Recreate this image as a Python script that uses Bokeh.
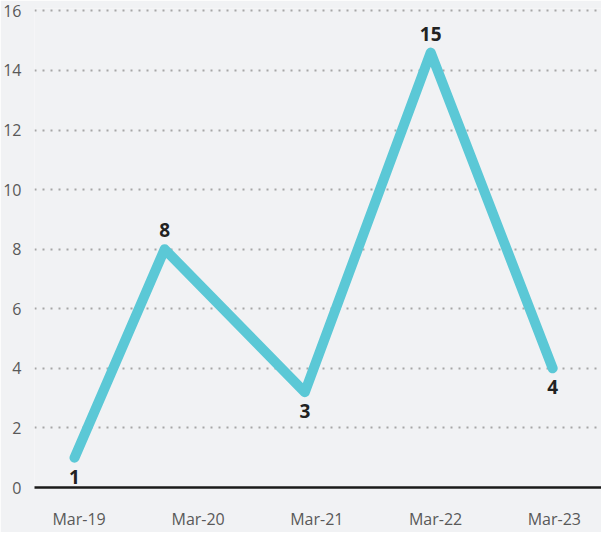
import pandas as pd
from bokeh.plotting import figure
from bokeh.models import ColumnDataSource, FixedTicker, DatetimeTickFormatter, Range1d
from bokeh.core.properties import value
from bokeh.embed import file_html
from bokeh.resources import INLINE

# ---- data ----
point_dates = ["2019-02-15", "2019-11-19", "2021-01-23", "2022-02-14", "2023-02-24"]
values = [1.0, 8.0, 3.2, 14.6, 4.0]
point_labels = ["1", "8", "3", "15", "4"]
tick_dates = ["2019-03-01", "2020-03-01", "2021-03-01", "2022-03-01", "2023-03-01"]
y_ticks = [0, 2, 4, 6, 8, 10, 12, 14, 16]

BG = "#f1f2f4"
LINE = "#5bc8d6"

xs = pd.to_datetime(point_dates)
ticks_ms = [pd.Timestamp(d).value // 10**6 for d in tick_dates]

# label above local peaks, below local troughs
offsets = []
for i, v in enumerate(values):
    nb = [values[j] for j in (i - 1, i + 1) if 0 <= j < len(values)]
    offsets.append(-19 if v >= sum(nb) / len(nb) else 19)

src = ColumnDataSource(dict(x=xs, y=values, t=point_labels, off=offsets))

p = figure(width=601, height=532, x_axis_type="datetime",
           output_backend="svg", toolbar_location=None,
           min_border_left=27, min_border_right=0, min_border_top=8, min_border_bottom=40)
p.x_range = Range1d(pd.Timestamp("2018-10-15"), pd.Timestamp("2023-07-24"))
p.y_range = Range1d(0, 16.08)

p.background_fill_color = BG
p.border_fill_color = BG
p.outline_line_color = None

p.line("x", "y", source=src, line_color=LINE, line_width=10,
       line_cap="round", line_join="round")
p.text("x", "y", text="t", source=src, y_offset="off",
       text_align="center", text_baseline="middle",
       text_font=value("Open Sans"), text_font_style="bold",
       text_font_size="19px", text_color="#222222")

# axes
p.xaxis.ticker = FixedTicker(ticks=ticks_ms)
fmt = "%b-%y"
p.xaxis.formatter = DatetimeTickFormatter(years=fmt, months=fmt, days=fmt, hours=fmt,
                                          minutes=fmt, seconds=fmt, milliseconds=fmt,
                                          microseconds=fmt, hourmin=fmt, minsec=fmt)
p.xaxis.axis_line_color = "#1a1a1a"
p.xaxis.axis_line_width = 2.5
p.xaxis.major_tick_line_color = None
p.xaxis.minor_tick_line_color = None
p.xaxis.major_label_standoff = 14
p.xaxis.major_label_text_font = "Open Sans"
p.xaxis.major_label_text_font_size = "16px"
p.xaxis.major_label_text_color = "#595959"

p.yaxis.ticker = FixedTicker(ticks=y_ticks)
p.yaxis.axis_line_color = None
p.yaxis.major_tick_line_color = None
p.yaxis.minor_tick_line_color = None
p.yaxis.major_label_standoff = 7
p.yaxis.major_label_text_font = "Open Sans"
p.yaxis.major_label_text_font_size = "16px"
p.yaxis.major_label_text_color = "#595959"

p.xgrid.grid_line_color = None
p.ygrid.ticker = FixedTicker(ticks=y_ticks[1:])
p.ygrid.grid_line_color = "#a6a6a6"
p.ygrid.grid_line_width = 2
p.ygrid.grid_line_dash = "2 6"

open("out.html", "w").write(file_html(p, INLINE))
